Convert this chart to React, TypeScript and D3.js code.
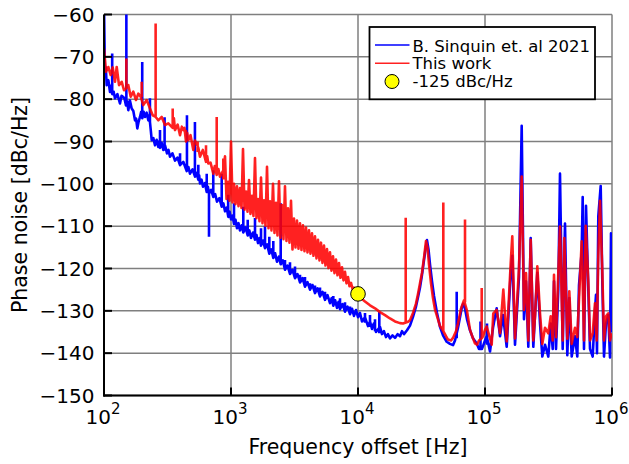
import React, { useEffect } from "react";
import * as d3 from "d3";

// ---------- data ----------
const xTickValues = [100, 1000, 10000, 100000, 1000000];
const xTickExponents = ["2", "3", "4", "5", "6"];
const yTickValues = [-150, -140, -130, -120, -110, -100, -90, -80, -70, -60];

const xLabel = "Frequency offset [Hz]";
const yLabel = "Phase noise [dBc/Hz]";
const legendLabels = ["B. Sinquin et. al 2021", "This work", "-125 dBc/Hz"];

// [frequency Hz, dBc/Hz]
const blueTrace: [number, number][] = [
  [100, -58], [101.8, -74.7], [103.3, -72.5], [105, -76.7], [108.2, -75.5], [111.5, -78.3], [113.8, -76.8],
  [116.2, -78.8], [119, -78.2], [122, -79.8], [127.5, -78.8], [133.6, -81], [137.5, -79.2], [141.9, -79.5],
  [145.3, -80], [149, -81.5], [152.2, -80.5], [155.4, -82.6], [160, -80.3], [165.2, -82.2], [170.2, -82.8],
  [175.4, -85], [179, -84.6], [182.9, -86.9], [187.4, -85.3], [192.1, -84.2], [196.2, -83], [200.3, -84.5],
  [205.3, -83], [210.3, -84.2], [216.7, -83.2], [223.3, -85], [226.7, -83.8], [230.2, -85.5], [233.8, -87.5],
  [237.5, -89.7], [244.6, -89.2], [252, -90.9], [259.7, -89.6], [267.6, -91.3], [271.8, -90], [276, -91.5],
  [284.5, -90.3], [293.1, -92], [303, -91], [313.4, -92.8], [322, -92], [330.9, -93.6], [346, -92.8],
  [362.3, -94.5], [379, -93.8], [396.8, -95.6], [421, -94.8], [448, -97], [461.6, -96], [475.6, -97.6],
  [497.6, -96.6], [520.8, -98.3], [536.5, -97.4], [552.8, -99], [561.4, -98], [570, -99.9], [585.8, -99],
  [602, -100.7], [622.5, -99.8], [643.8, -101.9], [657.4, -100.7], [671.1, -102.3], [697.8, -101.4],
  [725.5, -103.1], [750.3, -102.4], [776, -104.2], [809.7, -103.4], [845, -105.4], [870.6, -104.6],
  [897, -106.5], [924.3, -105.6], [952.3, -107.8], [975.8, -106.6], [1000, -108.4],
  [1028, -107.5], [1056, -109.5], [1085, -108.5], [1115, -110.5], [1146, -109.3], [1177, -111],
  [1213, -109.8], [1250, -111.5], [1301, -110.3], [1354, -112.2], [1395, -111], [1437, -112.8],
  [1490, -111.5], [1545, -113.2], [1588, -112.1], [1631, -114], [1676, -112.8], [1723, -114.6],
  [1786, -113.4], [1852, -115.2], [1926, -114.3], [2003, -116.5], [2077, -115.5], [2153, -117.5],
  [2226, -116.4], [2302, -118.4], [2381, -117.2], [2462, -119], [2560, -118.1], [2661, -120.3],
  [2785, -119.3], [2914, -121.3], [3049, -120.3], [3191, -122.3], [3339, -121.3], [3494, -123.3],
  [3656, -122.3], [3825, -124.3], [4003, -123.2], [4189, -125], [4383, -123.9], [4585, -125.8],
  [4798, -124.7], [5021, -126.6], [5254, -125.5], [5498, -127.4], [5752, -126.3], [6018, -128.2],
  [6202, -127], [6392, -128.8], [6610, -127.5], [6835, -129.3], [7024, -127.9], [7217, -129.6],
  [7551, -128.4], [7900, -130.2], [8267, -129], [8650, -130.8], [8969, -129.5], [9300, -131.2],
  [9644, -129.8], [10000, -131.5], [10370, -130.5], [10750, -132.5], [11350, -131.5], [11990, -133.6],
  [12430, -132.5], [12890, -134.3], [13300, -133], [13860, -135], [14900, -133.8], [15450, -135.5],
  [16000, -134.8], [16610, -136.2], [17200, -135.5], [17860, -136.5], [18700, -135.8], [19560, -136.4],
  [20500, -135.5], [21410, -136], [22200, -134.8], [23020, -135.5], [24310, -134.6],
  [25670, -133.5], [27110, -131.4], [28620, -129], [29680, -126.8], [30780, -124.5], [31910, -121.5],
  [33090, -118], [34000, -115.5], [34940, -113.3], [35910, -115.5], [36890, -119], [38250, -123],
  [39680, -126.5], [41890, -130.5], [44230, -133.8], [46700, -135.8], [49940, -137.3], [53010, -137.8],
  [55980, -138.1], [58050, -137], [61290, -134], [63560, -131.5], [65910, -129], [67480, -128.3],
  [69600, -129.5], [72170, -132], [76200, -134.6], [80440, -136.5], [86040, -137.7], [89700, -139],
  [94710, -139], [100000, -137], [103100, -136], [109500, -139.6], [115600, -134], [123600, -129.4],
  [131300, -136], [138600, -131], [148200, -138.5], [159400, -121], [164000, -117], [172300, -138],
  [185200, -122], [194500, -86.3], [202800, -132], [210300, -123], [219300, -138.5], [229000, -112.8],
  [240100, -138.5], [258200, -121], [271100, -133], [282700, -140.8], [296800, -138], [315100, -140.8],
  [329100, -133], [341300, -139], [349400, -123], [362300, -139], [377700, -125], [389500, -97.6],
  [409100, -139], [426500, -109.4], [444700, -140.5], [461100, -127], [481600, -140.8], [511200, -136],
  [533100, -140.8], [549800, -123.9], [577200, -116], [587800, -103.1], [602000, -139], [624200, -105.2],
  [651000, -125], [671100, -139], [704700, -140.8], [734700, -130], [748200, -126.2], [761900, -140],
  [780100, -107.7], [814700, -100.5], [838900, -123], [865000, -140.8], [897000, -133], [935100, -131],
  [964400, -141], [982000, -111.7], [1000000, -135],
];

// [frequency Hz, base dB, peak dB]
const blueSpikes: [number, number, number][] = [
  [116, -78.8, -69.2], [150, -81.5, -58], [200, -84.5, -71.2], [230, -85.5, -79.8],
  [276, -91.5, -87.3], [300, -92.2, -84.3], [397, -95.6, -92.8], [450, -97, -83.8],
  [520, -98.3, -85.4], [553, -99, -95.5], [644, -101.9, -97.6], [671, -102.3, -112.5],
  [725, -103.1, -96.8], [845, -105.4, -97.6], [950, -107.8, -102.6],
  [1056, -109.5, -104.6], [1250, -111.5, -105.4], [1354, -112.2, -108.5], [1545, -113.2, -108.1],
  [1723, -114.6, -110.5], [1852, -115.2, -110], [2003, -116.5, -112.5], [2153, -117.5, -113.5],
  [2462, -119, -104.6], [2661, -120.3, -118], [2914, -121.3, -118.5], [3191, -122.3, -119.5],
  [3494, -123.3, -121.5], [3825, -124.3, -122], [4189, -125, -123.5], [4585, -125.8, -124],
  [5021, -126.6, -124.5], [5498, -127.4, -125.5], [6392, -128.8, -126.5], [7217, -129.6, -127],
  [7900, -130.2, -128], [8650, -130.8, -129],
  [11350, -132.8, -130.5], [12430, -133.8, -131], [13610, -134.8, -132], [14720, -135.3, -130.2],
  [59860, -136.5, -125.5], [92170, -139, -132.5], [103700, -138, -133],
];

const redTrace: [number, number][] = [
  [100, -68], [101.8, -70.8], [103.7, -73.5], [108.1, -72.4], [112.9, -74.3], [117.1, -72.5],
  [122, -75.9], [125.9, -72.4], [131.3, -76.7], [137.9, -75.9], [143.7, -77.9], [149, -77.5],
  [155.4, -76.7], [162.3, -79.4], [170.1, -78.2], [178.6, -80.2], [186.3, -78.7], [194.5, -79.4],
  [203.9, -81.4], [216.9, -80.2], [230.2, -82.2], [241.8, -83.8], [255.3, -84.2], [267.6, -85],
  [284.7, -84.2], [302.2, -86.1], [320.9, -85.7], [347.5, -86.8], [355, -84.5], [362.3, -87.3],
  [380, -86], [396.8, -88.5], [410, -86.5], [421.1, -87.3], [430, -86.8], [442.3, -90], [452, -88],
  [461.1, -89.7], [480, -88.5], [505, -92], [520, -89.8], [537, -90.5], [553, -91.5], [570, -93.6],
  [600, -92], [635.6, -94.8], [650, -93.5], [662.7, -95.2], [690, -95], [725.5, -97.6], [745, -95.8],
  [771.7, -97.9], [795, -96.5], [819.4, -98.3], [845, -97.5], [869.7, -96.8],
  [897, -93.5], [922, -103.6], [947, -99.5], [973, -104], [1000, -90], [1028, -104.4], [1056, -100],
  [1085, -104.8], [1115, -100.6], [1146, -105.3], [1177, -101], [1210, -105.7], [1243, -91.8],
  [1278, -106.1], [1313, -101.8], [1349, -106.6], [1386, -99.1], [1424, -107.1], [1463, -102.8],
  [1503, -107.6], [1545, -93.9], [1587, -108.1], [1631, -103.6], [1676, -108.8], [1723, -98.5],
  [1770, -109.3], [1819, -103.9], [1869, -109.9], [1921, -96], [1974, -110.5], [2028, -104.1],
  [2084, -111], [2141, -100], [2200, -111.6], [2261, -104.5], [2323, -112.2], [2387, -99.4],
  [2453, -112.7], [2521, -105], [2590, -113.1], [2661, -100.6], [2735, -113.5], [2810, -105.8],
  [2888, -113.9], [2968, -104], [3049, -115.5], [3133, -108.2], [3220, -115], [3309, -108.7],
  [3400, -115.3], [3494, -109.3], [3589, -115.6], [3687, -109.8], [3790, -115.9], [3895, -110.3],
  [4003, -116.2], [4113, -111], [4227, -116.5], [4343, -111.7], [4462, -117], [4585, -112.4],
  [4712, -117.6], [4842, -113.2], [4975, -118.1], [5112, -113.9], [5253, -118.7], [5398, -114.6],
  [5547, -119.3], [5700, -115.4], [5857, -119.9], [6018, -116.2], [6184, -120.5], [6355, -117.1],
  [6531, -121.1], [6711, -117.9], [6896, -121.6], [7085, -118.7], [7281, -122.2], [7482, -119.7],
  [7688, -122.8], [7900, -120.8], [8118, -123.5], [8342, -122], [8572, -124.2], [8809, -123.4],
  [9051, -124.8], [9300, -124.5], [9644, -125.5], [10000, -126],
  [10750, -127.2], [11350, -127.8], [12430, -128.7], [13610, -129.4], [14900, -130.3], [16310, -131],
  [17860, -131.8], [19560, -132.5], [21410, -132.9], [22610, -133], [24760, -132.6], [25670, -132.2],
  [27110, -130.5], [28620, -128.3], [29680, -126], [30780, -123.5], [31910, -121], [33090, -117.5],
  [34310, -113.5], [35260, -115], [36230, -119], [37570, -123.5], [38950, -127], [40400, -129.7],
  [42650, -132], [44230, -133.6], [46960, -134.8], [49310, -136], [51120, -136.8], [53990, -137],
  [55980, -136.4], [59110, -134.8], [61290, -133], [64720, -129.5], [68350, -127.5], [72170, -130],
  [76200, -134.5], [80440, -136.5], [83430, -137.7], [86500, -138], [89700, -137], [94200, -136.5],
  [96440, -136], [100000, -134.5],
  [103100, -133.7], [112900, -138], [116200, -130.6], [123600, -129.8], [131300, -135.3], [139400, -125],
  [148200, -137.2], [159400, -118.7], [164000, -112.4], [172300, -136.5], [185200, -119.9], [194500, -98.3],
  [202800, -129.8], [210300, -121.1], [219300, -137], [229000, -113.2], [240100, -137], [248000, -131],
  [258200, -119.5], [271100, -130.6], [282700, -137.8], [296800, -134], [315100, -135.3], [329100, -131.3],
  [341300, -137], [349400, -121.5], [362300, -136.2], [377700, -121], [389500, -110.1], [409100, -137],
  [421100, -112.8], [444700, -136.6], [461100, -125.4], [481600, -137.8], [511200, -134], [533100, -136.2],
  [552800, -125.8], [577200, -113.6], [602000, -137], [620800, -109.9], [651000, -123.1], [671100, -137],
  [704700, -135.3], [734700, -128.2], [757700, -137], [780100, -117.2], [804400, -104], [838900, -120.7],
  [865000, -137], [897000, -131.3], [935100, -130.6], [964400, -137], [994600, -135.3],
];

const redSpikes: [number, number, number][] = [
  [150, -77.5, -70.4], [198, -79.5, -75.9], [255, -84.2, -62.1], [347.5, -86.8, -82.2],
  [442, -90, -87.3], [546, -92.5, -90], [635.6, -94.8, -90.9], [771.7, -97.9, -84.2], [870, -99, -94],
  [23750, -132.8, -108], [46960, -134.8, -104.4], [69600, -128, -108.4], [94200, -136.5, -124.6],
];

const markerPoint: [number, number] = [10000, -126];

// ---------- chart ----------
const W = 629;
const H = 464;
const PL = 104;
const PR = 612;
const PT = 14.5;
const PB = 395.5;
const FONT = "'DejaVu Sans', sans-serif";
const BLUE = "#0000ff";
const RED = "#ff0000";
const GRID = "#7f7f7f";

export default function App() {
  useEffect(() => {
    document.body.style.margin = "0";
    document.body.style.overflow = "hidden";
  }, []);

  const x = d3.scaleLog().domain([100, 1e6]).range([PL, PR]);
  const y = d3.scaleLinear().domain([-150, -60]).range([PB, PT]);
  const line = d3
    .line<[number, number]>()
    .x((d) => x(d[0]))
    .y((d) => y(d[1]));
  const buildPath = (trace: [number, number][], spikes: [number, number, number][]) =>
    (line(d3.sort(trace, (d) => d[0])) || "") +
    spikes
      .map(([f, b, p]) => `M${x(f)},${y(b)}L${x(f)},${y(p)}`)
      .join("");

  const fmt = d3.format("d");

  return (
    <svg
      width={W}
      height={H}
      style={{ position: "absolute", left: 0, top: 0, background: "#fff" }}
      fontFamily={FONT}
    >
      <defs>
        <clipPath id="plotClip">
          <rect x={PL} y={PT} width={PR - PL} height={PB - PT} />
        </clipPath>
      </defs>
      <rect x={0} y={0} width={W} height={H} fill="#fff" />

      {/* grid */}
      <g stroke={GRID} strokeWidth={1.5}>
        {xTickValues.map((v) => (
          <line key={"gx" + v} x1={x(v)} x2={x(v)} y1={PT} y2={PB} />
        ))}
        {yTickValues.map((v) => (
          <line key={"gy" + v} x1={PL} x2={PR} y1={y(v)} y2={y(v)} />
        ))}
      </g>

      {/* data */}
      <g clipPath="url(#plotClip)" fill="none" strokeLinejoin="round">
        <path d={buildPath(blueTrace, blueSpikes)} stroke={BLUE} strokeWidth={2.6} />
        <path
          d={buildPath(redTrace, redSpikes)}
          stroke={RED}
          strokeOpacity={0.87}
          strokeWidth={2.6}
        />
        <circle
          cx={x(markerPoint[0])}
          cy={y(markerPoint[1])}
          r={7.3}
          fill="#ffff00"
          stroke="#000"
          strokeWidth={1}
        />
      </g>

      {/* axes */}
      <g stroke="#000" strokeWidth={2}>
        <line x1={PL} x2={PL} y1={PT} y2={PB + 1} />
        <line x1={PL - 1} x2={PR} y1={PB} y2={PB} />
        {yTickValues.map((v) => (
          <line key={"ty" + v} x1={PL} x2={PL + 8} y1={y(v)} y2={y(v)} />
        ))}
        {xTickValues.map((v) => (
          <line key={"tx" + v} x1={x(v)} x2={x(v)} y1={PB} y2={PB - 8} />
        ))}
      </g>

      {/* y tick labels */}
      <g fontSize={20} textAnchor="end" fill="#000">
        {yTickValues.map((v) => (
          <text key={"ly" + v} x={94.5} y={y(v) + 7}>
            {fmt(v)}
          </text>
        ))}
      </g>

      {/* x tick labels */}
      <g fill="#000">
        {xTickValues.map((v, i) => (
          <text key={"lx" + v} x={x(v) - 1} y={423.5} textAnchor="middle" fontSize={20}>
            <tspan>10</tspan>
            <tspan fontSize={15} dy={-10}>
              {xTickExponents[i]}
            </tspan>
          </text>
        ))}
      </g>

      {/* axis labels */}
      <text x={(PL + PR) / 2} y={454} textAnchor="middle" fontSize={20.5} fill="#000">
        {xLabel}
      </text>
      <text
        transform={`translate(27,${(PT + PB) / 2}) rotate(-90)`}
        textAnchor="middle"
        fontSize={20.5}
        fill="#000"
      >
        {yLabel}
      </text>

      {/* legend */}
      <g>
        <rect x={369.5} y={27} width={225.5} height={72.3} fill="#fff" stroke="#000" strokeWidth={1.8} />
        <line x1={375} x2={409.5} y1={45} y2={45} stroke={BLUE} strokeWidth={1.6} />
        <line x1={375} x2={409.5} y1={63.2} y2={63.2} stroke={RED} strokeOpacity={0.87} strokeWidth={1.6} />
        <circle cx={392} cy={81.5} r={7} fill="#ffff00" stroke="#000" strokeWidth={1} />
        <g fontSize={16.5} fill="#000">
          <text x={412.5} y={51.5}>{legendLabels[0]}</text>
          <text x={412.5} y={69.2}>{legendLabels[1]}</text>
          <text x={412.5} y={86.8}>{legendLabels[2]}</text>
        </g>
      </g>
    </svg>
  );
}
